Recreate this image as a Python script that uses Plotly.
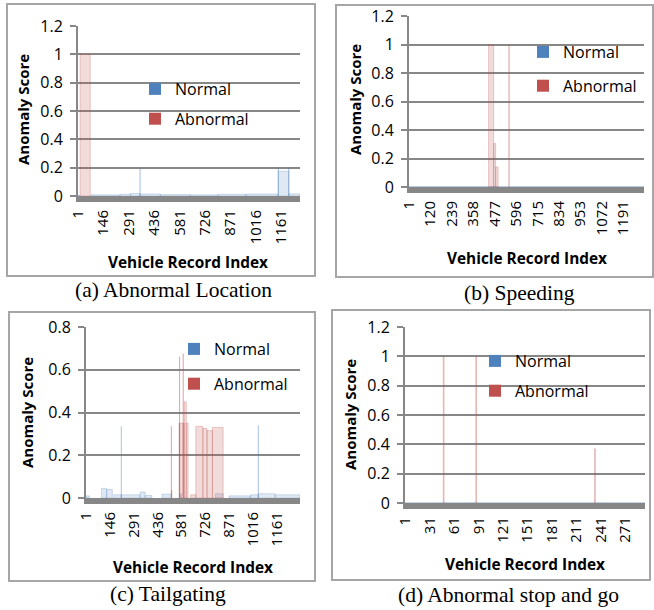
import plotly.graph_objects as go

# ---------------- data ----------------
# each series is stored as runs of consecutive records: start index, end index, anomaly score
n_records_a, n_records_b, n_records_c, n_records_d = 1268, 1305, 1300, 295
tick_step_a, tick_step_b, tick_step_c, tick_step_d = 145, 119, 145, 30

# (a) Abnormal Location
a_normal_start = [1, 75, 241, 301, 355, 356, 471, 641, 801, 961, 1143, 1146, 1204, 1207]
a_normal_end = [12, 240, 300, 354, 355, 470, 640, 800, 960, 1142, 1145, 1203, 1206, 1268]
a_normal_score = [0.005, 0.008, 0.012, 0.018, 0.19, 0.014, 0.01, 0.008, 0.012, 0.014, 0.2, 0.175, 0.2, 0.015]
a_abnormal_start = [13]
a_abnormal_end = [70]
a_abnormal_score = [1.0]

# (b) Speeding
b_normal_start = [1]
b_normal_end = [1305]
b_normal_score = [0.003]
b_abnormal_start = [443, 471, 482, 556]
b_abnormal_end = [470, 481, 495, 556]
b_abnormal_score = [1.0, 0.305, 0.14, 1.0]

# (c) Tailgating
c_normal_start = [1, 95, 126, 170, 215, 216, 330, 360, 463, 572, 788, 870, 1000, 1047, 1048, 1150]
c_normal_end = [20, 125, 160, 214, 215, 329, 359, 400, 517, 580, 833, 999, 1046, 1047, 1149, 1300]
c_normal_score = [0.01, 0.045, 0.04, 0.015, 0.335, 0.015, 0.028, 0.012, 0.018, 0.02, 0.02, 0.01, 0.015, 0.34, 0.02, 0.015]
c_abnormal_start = [519, 520, 566, 569, 570, 591, 592, 598, 610, 637, 668, 711, 736, 769]
c_abnormal_end = [519, 522, 568, 569, 590, 591, 597, 609, 620, 667, 710, 735, 768, 833]
c_abnormal_score = [0.335, 0.035, 0.35, 0.66, 0.35, 0.675, 0.35, 0.45, 0.35, 0.015, 0.335, 0.325, 0.315, 0.33]

# (d) Abnormal stop and go
d_normal_start = [1]
d_normal_end = [295]
d_normal_score = [0.002]
d_abnormal_start = [48, 88, 234]
d_abnormal_end = [48, 88, 234]
d_abnormal_score = [1.0, 1.0, 0.37]

captions = ["(a) Abnormal Location", "(b) Speeding", "(c) Tailgating", "(d) Abnormal stop and go"]
series_names = ["Normal", "Abnormal"]

# ---------------- styling / layout ----------------
W, H = 654, 610
BLUE, RED = "#4F81BD", "#C0504D"
FILL = {"Normal": "rgba(79,129,189,0.18)", "Abnormal": "rgba(192,80,77,0.20)"}
EDGE = {"Normal": "rgba(79,129,189,0.25)", "Abnormal": "rgba(192,80,77,0.28)"}
SOLID = {"Normal": BLUE, "Abnormal": RED}
GRID = "#878787"
SANS = "Open Sans"
SERIF = "Liberation Serif"

def px(x0, x1):
    return [x0 / W, x1 / W]

def py(y_top, y_bot):
    return [1 - y_bot / H, 1 - y_top / H]

panels = [
    dict(n=n_records_a, step=tick_step_a, ymax=1.2,
         runs={"Normal": (a_normal_start, a_normal_end, a_normal_score),
               "Abnormal": (a_abnormal_start, a_abnormal_end, a_abnormal_score)},
         plot=(78, 300, 26, 196), frame=(7, 315, 4, 276),
         xtitle=(188, 262), ytitle=(23, 110), cap=(173, 290),
         legend=(135, 72), gap=6, legbox=(147, 258, 70, 130)),
    dict(n=n_records_b, step=tick_step_b, ymax=1.2,
         runs={"Normal": (b_normal_start, b_normal_end, b_normal_score),
               "Abnormal": (b_abnormal_start, b_abnormal_end, b_abnormal_score)},
         plot=(409, 644, 16, 187), frame=(336, 653, 5, 277),
         xtitle=(527, 258), ytitle=(355, 100), cap=(519, 293),
         legend=(523, 35), gap=10, legbox=(533, 648, 35, 97)),
    dict(n=n_records_c, step=tick_step_c, ymax=0.8,
         runs={"Normal": (c_normal_start, c_normal_end, c_normal_score),
               "Abnormal": (c_abnormal_start, c_abnormal_end, c_abnormal_score)},
         plot=(86, 300, 327, 498), frame=(9, 315, 312, 581),
         xtitle=(193, 567), ytitle=(27, 413), cap=(168, 594),
         legend=(174, 332), gap=11, legbox=(185, 299, 335, 400)),
    dict(n=n_records_d, step=tick_step_d, ymax=1.2,
         runs={"Normal": (d_normal_start, d_normal_end, d_normal_score),
               "Abnormal": (d_abnormal_start, d_abnormal_end, d_abnormal_score)},
         plot=(405, 645, 327, 503), frame=(332, 650, 310, 580),
         xtitle=(525, 564), ytitle=(350, 415), cap=(508, 595),
         legend=(475, 344), gap=6, legbox=(490, 592, 342, 400)),
]

fig = go.Figure()
layout = dict(width=W, height=H, margin=dict(l=0, r=0, t=0, b=0, autoexpand=False),
              paper_bgcolor="white", plot_bgcolor="white",
              barmode="overlay", showlegend=True,
              font=dict(family=SANS, color="#000000"))
shapes, annotations = [], []

for i, p in enumerate(panels, start=1):
    sx = "" if i == 1 else str(i)
    xa, ya = "x" + sx, "y" + sx
    lg = "legend" + sx
    for name in series_names:
        starts, ends, scores = p["runs"][name]
        fig.add_trace(go.Bar(
            x=[(s + e) / 2 for s, e in zip(starts, ends)],
            y=scores,
            width=[e - s + 1 for s, e in zip(starts, ends)],
            marker=dict(color=FILL[name], line=dict(color=EDGE[name], width=1)),
            xaxis=xa, yaxis=ya, showlegend=False, hoverinfo="skip", name=name))
    for name in series_names:
        fig.add_trace(go.Bar(
            x=[None], y=[None], name=name, marker=dict(color=SOLID[name], line=dict(width=0)),
            xaxis=xa, yaxis=ya, legend=lg, legendgroup=f"{i}{name}", showlegend=True))

    x0, x1, y0, y1 = p["plot"]
    ticks = list(range(1, p["n"] + 1, p["step"]))
    layout["xaxis" + sx] = dict(
        domain=px(x0, x1), anchor=ya, range=[0.5, p["n"] + 0.5], automargin=False,
        tickmode="array", tickvals=ticks, ticktext=[str(t) for t in ticks],
        tickangle=-90, tickfont=dict(size=15, family=SANS),
        showgrid=False, zeroline=False, showline=True, linewidth=6, linecolor=GRID,
        ticks="", ticklabelstandoff=2, fixedrange=True)
    layout["yaxis" + sx] = dict(
        domain=py(y0, y1), anchor=xa, range=[0, p["ymax"]], dtick=0.2, tick0=0,
        automargin=False, tickfont=dict(size=16, family=SANS),
        showgrid=True, gridcolor=GRID, gridwidth=1.5, zeroline=False,
        showline=True, linewidth=2, linecolor=GRID,
        ticks="outside", ticklen=6, tickcolor=GRID, tickwidth=1.5,
        ticklabelstandoff=4, fixedrange=True)

    lx, ly = p["legend"]
    layout[lg] = dict(x=lx / W, y=1 - ly / H, xanchor="left", yanchor="top",
                      bgcolor="rgba(255,255,255,0)", borderwidth=0, font=dict(size=16, family=SANS),
                      tracegroupgap=p["gap"], itemclick=False, itemdoubleclick=False)

    # white legend background: hides the gridlines behind the legend, as in the original
    bx0, bx1, by0, by1 = p["legbox"]
    shapes.append(dict(type="rect", xref="paper", yref="paper",
                       x0=bx0 / W, x1=bx1 / W, y0=1 - by1 / H, y1=1 - by0 / H,
                       line=dict(width=0), fillcolor="white", layer="between"))

    fx0, fx1, fy0, fy1 = p["frame"]
    shapes.append(dict(type="rect", xref="paper", yref="paper",
                       x0=fx0 / W, x1=fx1 / W, y0=1 - fy1 / H, y1=1 - fy0 / H,
                       line=dict(color="#A6A6A6", width=2), fillcolor="rgba(0,0,0,0)", layer="below"))
    tx, ty = p["xtitle"]
    annotations.append(dict(text="<b>Vehicle Record Index</b>", x=tx / W, y=1 - ty / H,
                            xref="paper", yref="paper", showarrow=False,
                            font=dict(size=15.4, family=SANS), xanchor="center", yanchor="middle"))
    vx, vy = p["ytitle"]
    annotations.append(dict(text="<b>Anomaly Score</b>", x=vx / W, y=1 - vy / H,
                            xref="paper", yref="paper", showarrow=False, textangle=-90,
                            font=dict(size=15, family=SANS), xanchor="center", yanchor="middle"))
    cx, cy = p["cap"]
    annotations.append(dict(text=captions[i - 1], x=cx / W, y=1 - cy / H,
                            xref="paper", yref="paper", showarrow=False,
                            font=dict(size=21.5, family=SERIF), xanchor="center", yanchor="middle"))

layout["shapes"] = shapes
layout["annotations"] = annotations
fig.update_layout(**layout)
fig.write_html("out.html", config={"displayModeBar": False},
               post_script="document.body.style.margin='0px';")
